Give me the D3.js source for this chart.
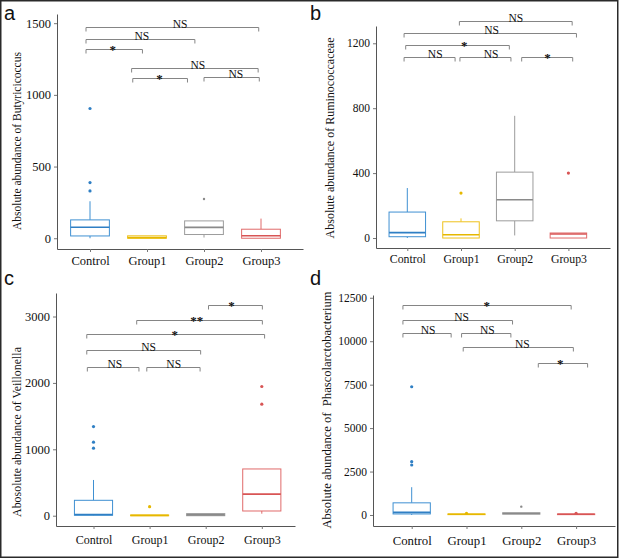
<!DOCTYPE html>
<html><head><meta charset="utf-8">
<script src="https://cdn.jsdelivr.net/npm/d3@7"></script>
<style>
body{margin:0;background:#fff}svg{display:block}
.serif, .serif text{font-family:"Liberation Serif","Times New Roman",Times,serif !important;}
.sans{font-family:"Liberation Sans",Arial,Helvetica,sans-serif;}
</style>
</head><body>
<svg id="chart" width="621" height="559"></svg>
<script>
// ---------- shared data ----------
const categories = ["Control", "Group1", "Group2", "Group3"];
const groupColors = ["#3f90d2", "#efc21c", "#9c9c9c", "#e06a6a"];
const medianColors = ["#2f7fc4", "#e6b800", "#8a8a8a", "#d85555"];

// ---------- panel a : Butyricicoccus ----------
const aTitle = "Absolute abundance of Butyricicoccus";
const aTicks = [0, 500, 1000, 1500];
const aLow = [0, 0, 5, 0];
const aQ1 = [16, 0, 26, 0];
const aMedian = [77, 4, 76, 17];
const aQ3 = [128, 17, 121, 63];
const aHigh = [258, 17, 121, 137];
const aOutliers = [[905, 388, 330], [], [274], []];
// [from, to, y, label, labelPos]
const aBrackets = [
  [-0.07, 2.96, 1475, "NS", 1.58],
  [-0.07, 1.84, 1388, "NS", 0.91],
  [-0.07, 0.92, 1320, "*", 0.40],
  [0.73, 2.95, 1190, "NS", 1.89],
  [0.75, 1.71, 1120, "*", 1.22],
  [2.00, 2.97, 1127, "NS", 2.56]
];

// ---------- panel b : Ruminococcaceae ----------
const bTitle = "Absolute abundance of Ruminococcaceae";
const bTicks = [0, 400, 800, 1200];
const bLow = [0, 0, 16, 0];
const bQ1 = [8, 0, 106, 0];
const bMedian = [33, 20, 236, 25];
const bQ3 = [160, 100, 406, 31];
const bHigh = [308, 121, 753, 31];
const bOutliers = [[], [277], [], [400]];
const bBrackets = [
  [0.97, 3.07, 1339, "NS", 2.02],
  [-0.06, 3.15, 1262, "NS", 1.57],
  [-0.03, 1.90, 1190, "*", 1.06],
  [-0.06, 0.89, 1114, "NS", 0.52],
  [0.98, 1.93, 1114, "NS", 1.56],
  [2.13, 3.08, 1116, "*", 2.61]
];

// ---------- panel c : Veillonella ----------
const cTitle = "Abosolute abundance of Veillonella";
const cTicks = [0, 1000, 2000, 3000];
const cLow = [0, 0, 0, 30];
const cQ1 = [6, 0, 0, 71];
const cMedian = [18, 5, 12, 325];
const cQ3 = [232, 10, 32, 704];
const cHigh = [538, 10, 32, 704];
const cOutliers = [[1342, 1107, 1017], [136], [], [1946, 1680]];
const cBrackets = [
  [2.05, 3.01, 3167, "*", 2.46],
  [0.77, 3.01, 2952, "**", 1.84],
  [-0.12, 3.05, 2741, "*", 1.45],
  [-0.12, 1.91, 2489, "NS", 0.98],
  [-0.11, 0.81, 2247, "NS", 0.38],
  [0.95, 1.90, 2247, "NS", 1.43]
];

// ---------- panel d : Phascolarctobacterium ----------
const dTitle = "Absolute abundance of \u00a0Phascolarctobacterium";
const dTicks = [0, 2500, 5000, 7500, 10000, 12500];
const dLow = [0, 20, 50, 20];
const dQ1 = [60, 20, 50, 20];
const dMedian = [150, 40, 90, 40];
const dQ3 = [700, 60, 130, 60];
const dHigh = [1600, 60, 130, 60];
const dOutliers = [[7380, 3067, 2877], [100], [480], [100]];
const dBrackets = [
  [-0.16, 2.91, 12083, "*", 1.37],
  [-0.16, 1.84, 11220, "NS", 0.91],
  [-0.16, 0.72, 10455, "NS", 0.30],
  [0.91, 1.81, 10455, "NS", 1.38],
  [0.94, 2.95, 9684, "NS", 2.02],
  [2.31, 3.21, 8763, "*", 2.71]
];

// ---------- layout (pixels) ----------
const panels = [
  {letter: "a", lx: 4, ly: 20, title: aTitle, ticks: aTicks, low: aLow, q1: aQ1, med: aMedian, q3: aQ3, high: aHigh, out: aOutliers, br: aBrackets,
   left: 57, right: 303, top: 14, bottom: 249, first: 90, step: 57, yDom: [-75, 1564],
   tx: 17, ty: 141, tFont: 11.5, yFont: 12.5, xFont: 12.5, xPad: 4},
  {letter: "b", lx: 310, ly: 20, title: bTitle, ticks: bTicks, low: bLow, q1: bQ1, med: bMedian, q3: bQ3, high: bHigh, out: bOutliers, br: bBrackets,
   left: 376, right: 610, top: 26, bottom: 248, first: 407.3, step: 53.7, yDom: [-61.5, 1306.5],
   tx: 330, ty: 138, tFont: 12, yFont: 11.5, xFont: 11.8, xPad: 4},
  {letter: "c", lx: 4, ly: 285, title: cTitle, ticks: cTicks, low: cLow, q1: cQ1, med: cMedian, q3: cQ3, high: cHigh, out: cOutliers, br: cBrackets,
   left: 56, right: 295, top: 293, bottom: 526, first: 93.5, step: 56.1, yDom: [-155, 3354],
   tx: 17, ty: 432, tFont: 11.9, yFont: 12.5, xFont: 12, xPad: 6},
  {letter: "d", lx: 310, ly: 285, title: dTitle, ticks: dTicks, low: dLow, q1: dQ1, med: dMedian, q3: dQ3, high: dHigh, out: dOutliers, br: dBrackets,
   left: 373, right: 615, top: 295, bottom: 526, first: 411.7, step: 54.8, yDom: [-633, 12659],
   tx: 327, ty: 410, tFont: 12.6, yFont: 11.5, xFont: 12.8, xPad: 7}
];

const svg = d3.select("#chart");
svg.append("rect").attr("width", 621).attr("height", 559).attr("fill", "#fff");

panels.forEach(p => {
  const g = svg.append("g").attr("class", "serif");
  const x = d3.scaleLinear()
    .domain([(p.left - p.first) / p.step, (p.right - p.first) / p.step])
    .range([p.left, p.right]);
  const y = d3.scaleLinear().domain(p.yDom).range([p.bottom, p.top]);
  const bw = p.step * 0.68;

  // axes
  const ya = g.append("g").attr("transform", `translate(${p.left},0)`)
    .call(d3.axisLeft(y).tickValues(p.ticks).tickFormat(d3.format("d"))
      .tickSize(3).tickSizeOuter(0).tickPadding(3));
  ya.attr("font-family", null).attr("font-size", p.yFont);
  ya.selectAll("text").attr("fill", "#111");
  const xa = g.append("g").attr("transform", `translate(0,${p.bottom})`)
    .call(d3.axisBottom(x).tickValues([0, 1, 2, 3]).tickFormat(i => categories[i])
      .tickSize(3).tickSizeOuter(0).tickPadding(p.xPad));
  xa.attr("font-family", null).attr("font-size", p.xFont);
  xa.selectAll("text").attr("fill", "#111");
  [ya, xa].forEach(a => {
    a.select(".domain").attr("stroke", "#555");
    a.selectAll(".tick line").attr("stroke", "#777");
  });

  // y title
  g.append("text")
    .attr("transform", `translate(${p.tx},${p.ty}) rotate(-90)`)
    .attr("text-anchor", "middle").attr("dy", "0.35em")
    .attr("font-size", p.tFont).attr("fill", "#111")
    .text(p.title);

  // boxes
  categories.forEach((c, i) => {
    const cx = x(i), col = groupColors[i];
    g.append("line").attr("x1", cx).attr("x2", cx).attr("y1", y(p.q3[i])).attr("y2", y(p.high[i]))
      .attr("stroke", col).attr("stroke-width", 1);
    g.append("line").attr("x1", cx).attr("x2", cx).attr("y1", y(p.q1[i])).attr("y2", y(p.low[i]))
      .attr("stroke", col).attr("stroke-width", 1);
    g.append("rect").attr("x", cx - bw / 2).attr("width", bw)
      .attr("y", y(p.q3[i])).attr("height", Math.max(0, y(p.q1[i]) - y(p.q3[i])))
      .attr("fill", "#fff").attr("stroke", col).attr("stroke-width", 1);
    g.append("line").attr("x1", cx - bw / 2).attr("x2", cx + bw / 2)
      .attr("y1", y(p.med[i])).attr("y2", y(p.med[i]))
      .attr("stroke", medianColors[i]).attr("stroke-width", 1.6);
    p.out[i].forEach(v => {
      g.append("circle").attr("cx", cx).attr("cy", y(v)).attr("r", i === 2 ? 1.2 : 1.6)
        .attr("fill", medianColors[i]);
    });
  });

  // significance brackets
  p.br.forEach(([a, b, v, lab, lp]) => {
    const yy = Math.round(y(v)) + 0.5;
    g.append("path")
      .attr("d", `M${x(a)},${yy + 4}V${yy}H${x(b)}V${yy + 4}`)
      .attr("fill", "none").attr("stroke", "#858585").attr("stroke-width", 1);
    const star = lab.indexOf("*") >= 0;
    g.append("text").attr("x", x(lp)).attr("y", star ? yy + 4 : yy + 0.5)
      .attr("text-anchor", "middle")
      .attr("font-size", star ? 13 : 11.5).attr("font-weight", star ? "bold" : "normal")
      .attr("fill", "#111").text(lab);
  });

  // panel letter
  svg.append("text").attr("class", "sans").attr("x", p.lx).attr("y", p.ly)
    .attr("font-size", 20).attr("fill", "#111").text(p.letter);
});

// outer frame
svg.append("rect").attr("x", 0.75).attr("y", 0.75).attr("width", 617).attr("height", 556.5)
  .attr("fill", "none").attr("stroke", "#2a2a2a").attr("stroke-width", 1.5);
</script>
</body></html>
